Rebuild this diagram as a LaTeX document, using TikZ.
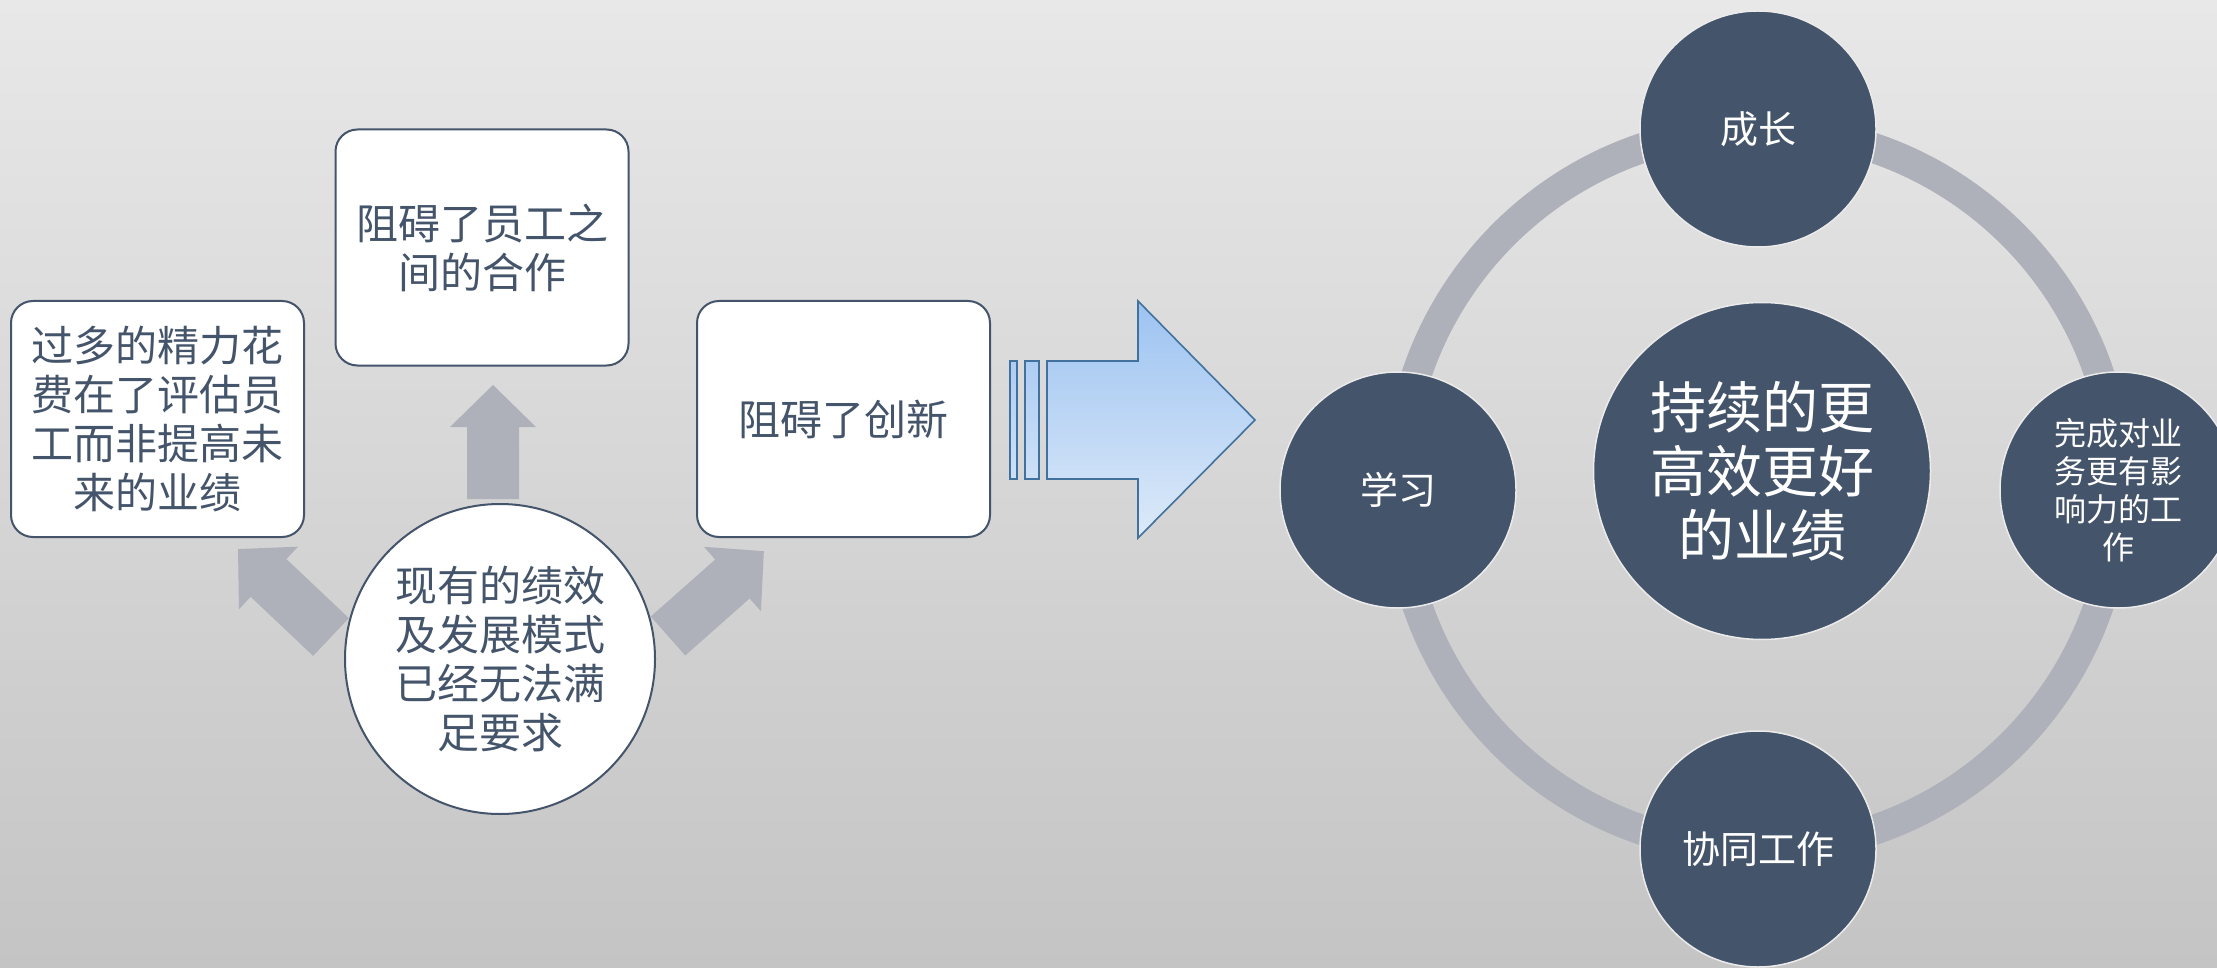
\documentclass[tikz,border=0pt]{standalone}
\usepackage{fontspec}
\setmainfont{Noto Sans CJK SC}
\definecolor{slate}{HTML}{44546A}
\definecolor{ringgrey}{HTML}{AEB1B9}
\definecolor{bgtop}{HTML}{E8E8E8}
\definecolor{bgbot}{HTML}{C4C4C4}
\definecolor{bluetop}{HTML}{9DC3F1}
\definecolor{bluebot}{HTML}{DDEAF9}
\definecolor{blueedge}{HTML}{41719C}
\begin{document}
\begin{tikzpicture}[x=1pt,y=-1pt,
  box/.style={draw=slate, line width=2pt, fill=white, rounded corners=22pt,
    minimum width=293pt, minimum height=236pt, align=center, text=slate,
    font=\fontsize{42}{49}\selectfont, inner sep=0pt},
  wcirc/.style={draw=slate, line width=2pt, fill=white, circle, minimum size=310pt,
    align=center, text=slate, font=\fontsize{42}{49}\selectfont, inner sep=0pt},
  dcirc/.style={draw=white!92!black, line width=1.5pt, fill=slate, circle, minimum size=236pt,
    align=center, text=white, font=\fontsize{38}{46}\selectfont, inner sep=0pt},
  pics/blockarrow/.style={code={
    \fill[ringgrey] (0,-26) -- ({#1-42},-26) -- ({#1-42},-43) -- (#1,0)
      -- ({#1-42},43) -- ({#1-42},26) -- (0,26) -- cycle;}}
]
% background
\shade[top color=bgtop, bottom color=bgbot] (0,0) rectangle (2217,968);
\useasboundingbox (0,0) rectangle (2217,968);

% left part: block arrows
\pic[rotate=90] at (493,499) {blockarrow=114};
\pic[rotate=136.6] at (331,637) {blockarrow=128};
\pic[rotate=41.5] at (668,636) {blockarrow=128};

\node[box] (b1) at (157.5,419) {过多的精力花\\费在了评估员\\工而非提高未\\来的业绩};
\node[box] (b2) at (482,247.5) {阻碍了员工之\\间的合作};
\node[box] (b3) at (843.5,419) {阻碍了创新};
\node[wcirc] (cur) at (500,659) {现有的绩效\\及发展模式\\已经无法满\\足要求};

% striped blue arrow
\shadedraw[top color=bluetop, bottom color=bluebot, draw=blueedge, line width=1.6pt]
  (1010,361) rectangle (1017,479)
  (1025,361) rectangle (1039,479)
  (1047,361) -- (1138,361) -- (1138,301) -- (1255,420) -- (1138,538) -- (1138,479) -- (1047,479) -- cycle;

% right part: ring
\coordinate (ringc) at (1758,489);
\draw[ringgrey, line width=30pt] (ringc) circle[radius=360pt];
\node[dcirc] (grow) at (1758,129) {成长};
\node[dcirc] (learn) at (1398,490) {学习};
\node[dcirc] (coop) at (1758,849) {协同工作};
\node[dcirc, font=\fontsize{32}{38}\selectfont] (impact) at (2118,490) {完成对业\\务更有影\\响力的工\\作};
\node[dcirc, minimum size=337pt, font=\fontsize{56}{64}\selectfont] (core) at (1762,471) {持续的更\\高效更好\\的业绩};
\end{tikzpicture}
\end{document}
